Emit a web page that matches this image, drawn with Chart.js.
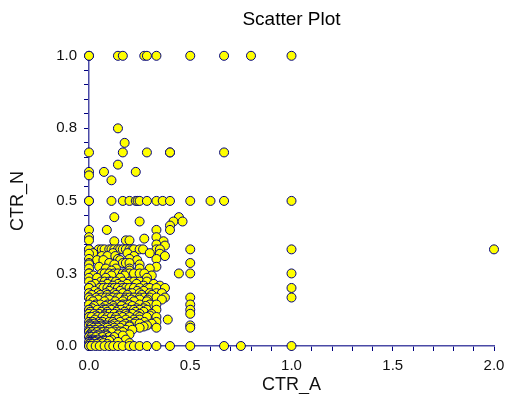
<!DOCTYPE html>
<html>
<head>
<meta charset="utf-8">
<title>Scatter Plot</title>
<script src="https://cdn.jsdelivr.net/npm/chart.js@4.4.1/dist/chart.umd.min.js"></script>
<style>
  html, body { margin: 0; padding: 0; background: #fff; }
  canvas { display: block; }
</style>
</head>
<body>
<canvas id="scatterChart" width="505" height="394"></canvas>
<script>
// y values (CTR_N), one per row of points
const ctrN = [
  1, 0.75, 0.7, 0.667, 0.625, 0.6, 0.588, 0.571, 0.5, 0.444,
  0.429, 0.415, 0.4, 0.375, 0.37, 0.364, 0.361, 0.35, 0.346, 0.333,
  0.32, 0.318, 0.31, 0.3, 0.296, 0.286, 0.281, 0.273, 0.267, 0.26,
  0.25, 0.243, 0.235, 0.222, 0.214, 0.208, 0.2, 0.19, 0.182, 0.176,
  0.167, 0.16, 0.154, 0.143, 0.138, 0.13, 0.125, 0.118, 0.111, 0.105,
  0.1, 0.091, 0.083, 0.077, 0.071, 0.067, 0.063, 0.056, 0.05, 0.048,
  0.04, 0.036, 0.031, 0.022, 0.018, 0.014, 0.01, 0.007, 0
];

// x values (CTR_A) found at each of those rows
const ctrA = [
  [0, 0, 0.143, 0.167, 0.273, 0.286, 0.333, 0.5, 0.667, 0.8, 1],   // 1
  [0.143],                                                          // 0.75
  [0.176],                                                          // 0.7
  [0, 0.167, 0.286, 0.4, 0.4, 0.667],                               // 0.667
  [0.143],                                                          // 0.625
  [0, 0.074, 0.231],                                                // 0.6
  [0],                                                              // 0.588
  [0.111],                                                          // 0.571
  [0, 0, 0.111, 0.167, 0.2, 0.231, 0.24, 0.25, 0.286, 0.333, 0.364, 0.4, 0.5, 0.6, 0.667, 1], // 0.5
  [0.125, 0.444],                                                   // 0.444
  [0.25, 0.417, 0.462],                                             // 0.429
  [0.4],                                                            // 0.415
  [0, 0.088, 0.333, 0.4],                                           // 0.4
  [0, 0.333],                                                       // 0.375
  [0.273],                                                          // 0.37
  [0, 0.182, 0.2],                                                  // 0.364
  [0.125, 0.368],                                                   // 0.361
  [0.333],                                                          // 0.35
  [0.375],                                                          // 0.346
  [0, 0, 0.048, 0.063, 0.077, 0.1, 0.111, 0.125, 0.143, 0.154, 0.167, 0.182, 0.2, 0.214, 0.222, 0.25, 0.267, 0.333, 0.35, 0.5, 1, 2], // 0.333
  [0.02, 0.118, 0.19, 0.3],                                         // 0.32
  [0, 0.35],                                                        // 0.318
  [0.063, 0.091, 0.13, 0.222, 0.375],                               // 0.31
  [0, 0.143, 0.2, 0.333],                                           // 0.3
  [0.04, 0.071, 0.154, 0.238],                                      // 0.296
  [0, 0.1, 0.167, 0.182, 0.2, 0.5],                                 // 0.286
  [0, 0.125, 0.25],                                                 // 0.281
  [0.05, 0.333],                                                    // 0.273
  [0, 0.083, 0.133, 0.2, 0.25, 0.3],                                // 0.267
  [0.111, 0.2],                                                     // 0.26
  [0, 0, 0.063, 0.077, 0.1, 0.125, 0.143, 0.167, 0.182, 0.2, 0.222, 0.25, 0.273, 0.444, 0.5, 1], // 0.25
  [0.022, 0.111, 0.176, 0.31],                                      // 0.243
  [0, 0.04, 0.083, 0.154, 0.286],                                   // 0.235
  [0, 0.059, 0.077, 0.1, 0.111, 0.133, 0.167, 0.2, 0.222, 0.25, 0.286], // 0.222
  [0.03, 0.091, 0.143, 0.188, 0.235, 0.32],                         // 0.214
  [0.01, 0.065, 0.118, 0.16, 0.27, 0.35],                           // 0.208
  [0, 0, 0.053, 0.071, 0.091, 0.111, 0.125, 0.143, 0.167, 0.182, 0.2, 0.222, 0.25, 0.286, 0.3, 0.333, 0.375, 1], // 0.2
  [0.028, 0.1, 0.154, 0.238, 0.27],                                 // 0.19
  [0, 0.045, 0.083, 0.125, 0.167, 0.2, 0.214, 0.25, 0.3, 0.333, 0.36], // 0.182
  [0.013, 0.056, 0.09, 0.133, 0.19, 0.26, 0.31],                    // 0.176
  [0, 0, 0.037, 0.063, 0.083, 0.1, 0.118, 0.143, 0.154, 0.182, 0.2, 0.222, 0.25, 0.273, 0.3, 0.333, 0.375, 0.5, 1], // 0.167
  [0.008, 0.045, 0.1, 0.176, 0.21, 0.25, 0.29, 0.36],               // 0.16
  [0.02, 0.077, 0.13, 0.167, 0.222, 0.286],                         // 0.154
  [0, 0.033, 0.056, 0.091, 0.111, 0.143, 0.167, 0.188, 0.2, 0.25, 0.3, 0.333, 0.5], // 0.143
  [0.025, 0.08, 0.12, 0.16, 0.214, 0.28],                           // 0.138
  [0.015, 0.067, 0.1, 0.125, 0.182, 0.235, 0.27],                   // 0.13
  [0, 0, 0.042, 0.071, 0.083, 0.111, 0.143, 0.158, 0.2, 0.222, 0.25, 0.286, 0.333, 0.5], // 0.125
  [0.006, 0.06, 0.09, 0.135, 0.176, 0.23, 0.27],                    // 0.118
  [0, 0.025, 0.05, 0.083, 0.1, 0.125, 0.154, 0.182, 0.214, 0.25, 0.308, 0.5], // 0.111
  [0.035, 0.075, 0.15, 0.19, 0.24, 0.3],                            // 0.105
  [0, 0, 0.013, 0.043, 0.067, 0.091, 0.111, 0.133, 0.167, 0.2, 0.25, 0.286, 0.333], // 0.1
  [0.029, 0.077, 0.125, 0.143, 0.182, 0.222, 0.25, 0.389],          // 0.091
  [0, 0.018, 0.05, 0.067, 0.1, 0.118, 0.154, 0.2, 0.231, 0.273, 0.333], // 0.083
  [0.005, 0.027, 0.056, 0.125, 0.18, 0.222, 0.25, 0.31],            // 0.077
  [0, 0.01, 0.036, 0.063, 0.083, 0.111, 0.143, 0.167, 0.2, 0.286, 0.5], // 0.071
  [0.012, 0.04, 0.07, 0.1, 0.2, 0.27],                              // 0.067
  [0.022, 0.045, 0.077, 0.091, 0.125, 0.154, 0.25, 0.333, 0.5],     // 0.063
  [0, 0.008, 0.03, 0.059, 0.1, 0.133, 0.182, 0.214],                // 0.056
  [0.02, 0.05, 0.08, 0.125, 0.154],                                 // 0.05
  [0, 0.015, 0.04, 0.071, 0.091, 0.111, 0.167],                     // 0.048
  [0.005, 0.025, 0.05, 0.083, 0.143, 0.2],                          // 0.04
  [0.003, 0.04, 0.07, 0.09, 0.167],                                 // 0.036
  [0, 0.012, 0.033, 0.067, 0.1, 0.125],                             // 0.031
  [0.004, 0.02, 0.043, 0.077, 0.111, 0.182],                        // 0.022
  [0.006, 0.03, 0.06, 0.083, 0.1],                                  // 0.018
  [0, 0.009, 0.028, 0.056, 0.143],                                  // 0.014
  [0.012, 0.045, 0.07, 0.2],                                        // 0.01
  [0.003, 0.017, 0.038, 0.091],                                     // 0.007
  [0, 0, 0.011, 0.033, 0.053, 0.077, 0.1, 0.12, 0.143, 0.167, 0.2, 0.222, 0.25, 0.286, 0.333, 0.4, 0.5, 0.667, 0.75, 1] // 0
];

const xTitle = 'CTR_A';
const yTitle = 'CTR_N';

const points = [];
ctrN.forEach((n, i) => {
  ctrA[i].forEach(a => points.push({ x: a, y: n }));
});

const axisColor = '#4a4aa6';
const tickColor = '#000080';
const fontFamily = '"Liberation Sans", Arial, sans-serif';

// label only every 0.5 on x and every 0.25 on y, the rest are minor ticks
function labelEvery(step) {
  return function (value) {
    const r = value / step;
    return Math.abs(r - Math.round(r)) < 1e-6 ? value.toFixed(1) : '';
  };
}

new Chart(document.getElementById('scatterChart'), {
  type: 'scatter',
  data: {
    datasets: [{
      data: points,
      pointRadius: 4.5,
      pointHoverRadius: 4.5,
      pointBackgroundColor: '#ffff00',
      pointBorderColor: '#000080',
      pointBorderWidth: 1,
      clip: false
    }]
  },
  options: {
    responsive: false,
    animation: false,
    layout: { padding: { left: 0, right: 11, top: 0, bottom: 0 } },
    plugins: {
      legend: { display: false },
      tooltip: { enabled: false },
      title: {
        display: true,
        text: 'Scatter Plot',
        fullSize: false,
        color: '#000',
        font: { family: fontFamily, size: 19, weight: 'normal' },
        padding: { top: 8, bottom: 25 }
      }
    },
    scales: {
      x: {
        type: 'linear',
        min: 0,
        max: 2,
        afterFit: function (scale) {
          scale.height = 48;
          scale.paddingLeft = 0;
          scale.paddingRight = 0;
        },
        border: { display: true, color: axisColor, width: 1.5 },
        grid: { drawOnChartArea: false, drawTicks: true, tickLength: 5, color: tickColor },
        ticks: {
          stepSize: 0.1,
          autoSkip: false,
          maxRotation: 0,
          padding: 6,
          color: '#111',
          font: { family: fontFamily, size: 15 },
          callback: labelEvery(0.5)
        },
        title: {
          display: true,
          text: xTitle,
          color: '#111',
          font: { family: fontFamily, size: 18, lineHeight: 1 },
          padding: { top: 0, bottom: 0 }
        }
      },
      y: {
        type: 'linear',
        min: 0,
        max: 1,
        afterFit: function (scale) {
          scale.width = 89;
          scale.paddingTop = 0;
          scale.paddingBottom = 0;
        },
        border: { display: true, color: axisColor, width: 1.5 },
        grid: { drawOnChartArea: false, drawTicks: true, tickLength: 5, color: tickColor },
        ticks: {
          stepSize: 0.05,
          autoSkip: false,
          padding: 7,
          color: '#111',
          font: { family: fontFamily, size: 15 },
          callback: labelEvery(0.25)
        },
        title: {
          display: true,
          text: yTitle,
          color: '#111',
          font: { family: fontFamily, size: 18, lineHeight: 1 },
          padding: { top: 9, bottom: 0 }
        }
      }
    }
  }
});
</script>
</body>
</html>
